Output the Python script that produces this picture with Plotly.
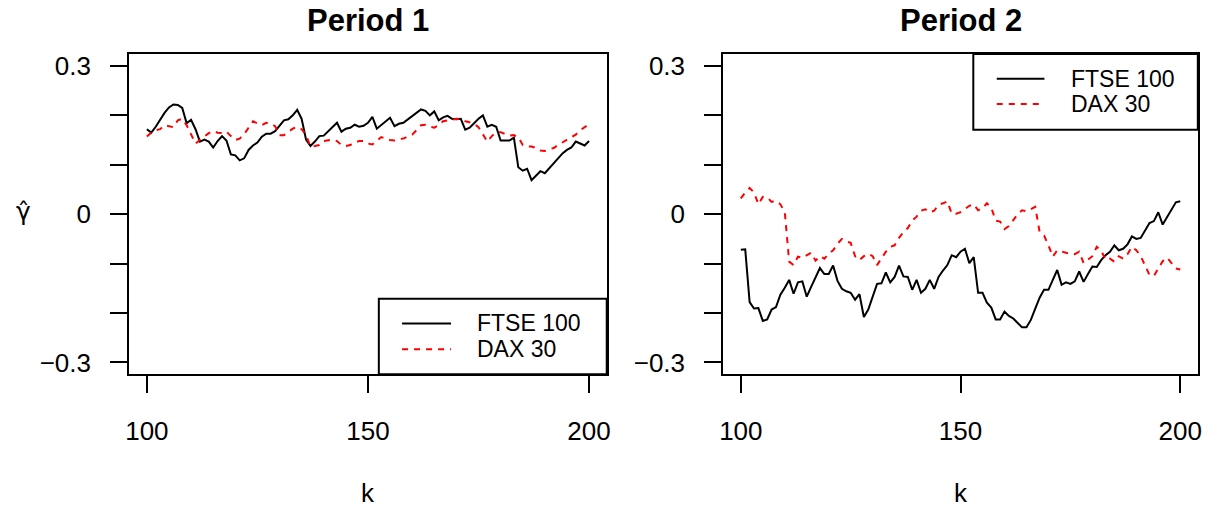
import plotly.graph_objects as go

W, H = 1221, 510

k = list(range(100, 201))

ftse_p1 = [0.172, 0.165, 0.177, 0.192, 0.205, 0.216, 0.222, 0.221, 0.215, 0.184,
           0.191, 0.172, 0.147, 0.151, 0.147, 0.135, 0.148, 0.158, 0.149, 0.121,
           0.119, 0.109, 0.113, 0.130, 0.139, 0.145, 0.157, 0.163, 0.163, 0.168,
           0.178, 0.190, 0.192, 0.200, 0.211, 0.193, 0.151, 0.138, 0.147, 0.158,
           0.159, 0.167, 0.177, 0.185, 0.167, 0.173, 0.175, 0.181, 0.177, 0.179,
           0.185, 0.197, 0.173, 0.181, 0.189, 0.195, 0.178, 0.183, 0.185, 0.192,
           0.199, 0.205, 0.212, 0.209, 0.200, 0.208, 0.190, 0.196, 0.199, 0.193,
           0.192, 0.193, 0.171, 0.175, 0.185, 0.193, 0.200, 0.177, 0.181, 0.177,
           0.149, 0.149, 0.149, 0.155, 0.095, 0.088, 0.092, 0.069, 0.078, 0.087,
           0.083, 0.093, 0.105, 0.113, 0.123, 0.130, 0.135, 0.147, 0.143, 0.139,
           0.148]

dax_p1 = [0.157, 0.165, 0.170, 0.172, 0.180, 0.178, 0.176, 0.190, 0.193, 0.180,
          0.160, 0.143, 0.150, 0.158, 0.164, 0.168, 0.165, 0.164, 0.167, 0.158,
          0.150, 0.153, 0.162, 0.175, 0.188, 0.184, 0.180, 0.185, 0.183, 0.178,
          0.160, 0.160, 0.167, 0.173, 0.177, 0.172, 0.160, 0.137, 0.138, 0.140,
          0.148, 0.150, 0.151, 0.148, 0.140, 0.138, 0.140, 0.145, 0.148, 0.148,
          0.143, 0.141, 0.148, 0.156, 0.153, 0.150, 0.149, 0.152, 0.153, 0.157,
          0.161, 0.170, 0.180, 0.181, 0.177, 0.175, 0.180, 0.188, 0.190, 0.192,
          0.193, 0.192, 0.188, 0.186, 0.183, 0.176, 0.162, 0.147, 0.158, 0.166,
          0.166, 0.162, 0.159, 0.160, 0.156, 0.140, 0.137, 0.137, 0.134, 0.129,
          0.128, 0.131, 0.134, 0.140, 0.145, 0.150, 0.155, 0.161, 0.170, 0.176,
          0.182]

ftse_p2 = [-0.072, -0.071, -0.178, -0.191, -0.190, -0.216, -0.213, -0.193, -0.188, -0.163,
           -0.149, -0.133, -0.161, -0.138, -0.136, -0.167, -0.147, -0.128, -0.109, -0.121,
           -0.121, -0.104, -0.135, -0.151, -0.156, -0.159, -0.173, -0.162, -0.208, -0.193,
           -0.166, -0.141, -0.140, -0.118, -0.138, -0.127, -0.104, -0.126, -0.127, -0.153,
           -0.133, -0.159, -0.151, -0.133, -0.151, -0.127, -0.114, -0.103, -0.083, -0.087,
           -0.076, -0.070, -0.099, -0.087, -0.159, -0.159, -0.179, -0.189, -0.213, -0.213,
           -0.197, -0.206, -0.211, -0.219, -0.229, -0.229, -0.214, -0.191, -0.169, -0.153,
           -0.153, -0.133, -0.113, -0.143, -0.138, -0.141, -0.136, -0.116, -0.137, -0.121,
           -0.106, -0.107, -0.093, -0.083, -0.076, -0.063, -0.073, -0.070, -0.061, -0.045,
           -0.050, -0.048, -0.032, -0.018, -0.014, 0.004, -0.021, -0.005, 0.010, 0.024,
           0.026]

dax_p2 = [0.032, 0.044, 0.053, 0.044, 0.020, 0.035, 0.034, 0.025, 0.027, 0.020,
          0.004, -0.096, -0.103, -0.086, -0.088, -0.083, -0.078, -0.094, -0.085, -0.090,
          -0.080, -0.073, -0.060, -0.050, -0.055, -0.058, -0.085, -0.093, -0.085, -0.080,
          -0.085, -0.103, -0.090, -0.076, -0.066, -0.063, -0.048, -0.036, -0.028, -0.013,
          -0.005, 0.007, 0.010, 0.004, 0.007, 0.019, 0.022, 0.026, 0.001, 0.001,
          0.004, 0.010, 0.017, 0.020, 0.008, 0.012, 0.022, 0.013, -0.013, -0.015,
          -0.030, -0.024, -0.013, 0.000, 0.008, 0.006, 0.010, 0.015, -0.036, -0.043,
          -0.063, -0.086, -0.073, -0.076, -0.078, -0.080, -0.081, -0.076, -0.099, -0.092,
          -0.085, -0.066, -0.073, -0.093, -0.090, -0.096, -0.085, -0.090, -0.081, -0.066,
          -0.073, -0.085, -0.103, -0.123, -0.125, -0.110, -0.095, -0.088, -0.100, -0.110,
          -0.112]

titles = ["Period 1", "Period 2"]
series_names = ["FTSE 100", "DAX 30"]
x_ticks = [100, 150, 200]
y_tickvals = [-0.3, -0.2, -0.1, 0.0, 0.1, 0.2, 0.3]
y_ticktext = ["\u22120.3", "", "", "0", "", "", "0.3"]

FONT = "Liberation Sans, Arial, Helvetica, sans-serif"


def px(x):
    return x / W


def py(y):
    return 1 - y / H


fig = go.Figure()

panels = [(ftse_p1, dax_p1, "x", "y"), (ftse_p2, dax_p2, "x2", "y2")]
for ftse, dax, xa, ya in panels:
    fig.add_trace(go.Scatter(x=k, y=ftse, mode="lines", xaxis=xa, yaxis=ya,
                             line=dict(color="black", width=2), showlegend=False,
                             name=series_names[0]))
    fig.add_trace(go.Scatter(x=k, y=dax, mode="lines", xaxis=xa, yaxis=ya,
                             line=dict(color="#ff0000", width=2, dash="6px,6px"),
                             showlegend=False, name=series_names[1]))

panel_px = [(126, 606.7), (724, 1201.7)]
y_top, y_bot = 51.7, 375.7

axis_common = dict(showline=True, mirror=True, linecolor="black", linewidth=2,
                   ticks="outside", ticklen=17, tickwidth=2, tickcolor="black",
                   showgrid=False, zeroline=False,
                   tickfont=dict(family=FONT, size=26, color="black"))

layout = dict(width=W, height=H, autosize=False,
              margin=dict(l=0, r=0, t=0, b=0),
              paper_bgcolor="white", plot_bgcolor="white", showlegend=False)

for i, (x0, x1) in enumerate(panel_px):
    sfx = "" if i == 0 else str(i + 1)
    layout["xaxis" + sfx] = dict(domain=[px(x0), px(x1)], range=[96, 204],
                                 tickvals=x_ticks, ticktext=[str(v) for v in x_ticks],
                                 anchor="y" + sfx, ticklabelstandoff=16, **axis_common)
    layout["yaxis" + sfx] = dict(domain=[py(y_bot), py(y_top)], range=[-0.324, 0.324],
                                 tickvals=y_tickvals, ticktext=y_ticktext,
                                 anchor="x" + sfx, ticklabelstandoff=14, **axis_common)

fig.update_layout(**layout)

annotations = []
shapes = []
for i, (x0, x1) in enumerate(panel_px):
    cx = (x0 + x1) / 2
    annotations.append(dict(x=px(cx), y=py(18), xref="paper", yref="paper",
                            text="<b>" + titles[i] + "</b>", showarrow=False,
                            xanchor="center", yanchor="middle",
                            font=dict(family=FONT, size=31, color="black")))
    annotations.append(dict(x=px(cx), y=py(496), xref="paper", yref="paper",
                            text="k", showarrow=False, xanchor="center", yanchor="middle",
                            font=dict(family=FONT, size=26, color="black")))

# y label: gamma hat (single text with combining circumflex)
annotations.append(dict(x=px(20), y=py(211), xref="paper", yref="paper",
                        text="\u03b3\u0302", showarrow=False,
                        xanchor="center", yanchor="middle", textangle=0,
                        font=dict(family="DejaVu Sans, " + FONT, size=25, color="black")))

# legends (box, samples, labels)
legends = [
    dict(box=(377.3, 299.3, 606.7, 375.7), lx=(400.7, 450), rows=(324.3, 350.3), tx=474.3),
    dict(box=(975.7, 51.7, 1201.7, 128.3), lx=(999.3, 1047.3), rows=(76.7, 102.3), tx=1071.7),
]
for lg in legends:
    bx0, by0, bx1, by1 = lg["box"]
    shapes.append(dict(type="rect", xref="paper", yref="paper",
                       x0=px(bx0), x1=px(bx1), y0=py(by1), y1=py(by0),
                       line=dict(color="black", width=2), fillcolor="white", layer="above"))
    styles = [dict(color="black", width=2), dict(color="#ff0000", width=2, dash="6px,6px")]
    for j, name in enumerate(series_names):
        ry = lg["rows"][j]
        shapes.append(dict(type="line", xref="paper", yref="paper",
                           x0=px(lg["lx"][0]), x1=px(lg["lx"][1]), y0=py(ry), y1=py(ry),
                           line=styles[j], layer="above"))
        annotations.append(dict(x=px(lg["tx"]), y=py(ry), xref="paper", yref="paper",
                                text=name, showarrow=False, xanchor="left", yanchor="middle",
                                font=dict(family=FONT, size=23, color="black")))

fig.update_layout(annotations=annotations, shapes=shapes)
fig.write_html("out.html")
